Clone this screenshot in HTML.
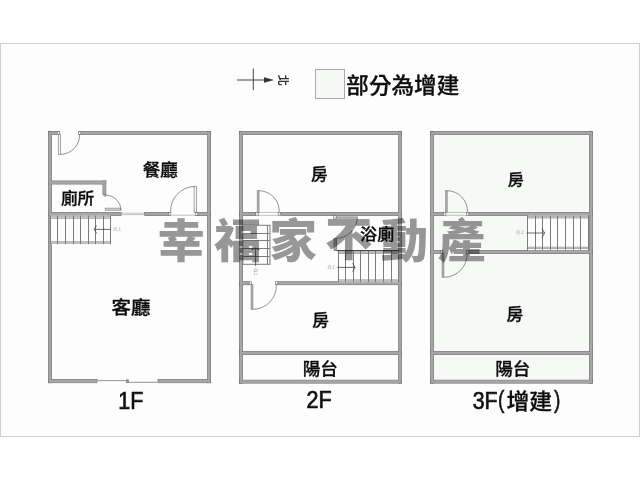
<!DOCTYPE html>
<html lang="zh-Hant">
<head>
<meta charset="utf-8">
<title>格局圖</title>
<style>
html,body{margin:0;padding:0;background:#fff;width:640px;height:480px;overflow:hidden}
svg{display:block;position:absolute;left:0;top:0;will-change:transform;opacity:0.999}
text{font-family:"Liberation Sans","Noto Sans CJK TC",sans-serif;fill:#111}
.frame{fill:#fdfdfd;stroke:#cfcfcf;stroke-width:1}
.w{fill:#a6a6a6;stroke:#6a6a6a;stroke-width:0.7}
.wf{fill:#a6a6a6;stroke:none}
.l{fill:none;stroke:#555;stroke-width:0.8}
.arc{fill:none;stroke:#666;stroke-width:0.7}
.door{fill:#aaa;stroke:#858585;stroke-width:0.5}
.doorg{fill:#d0d0d0;stroke:#808080;stroke-width:0.6}
.doorw{fill:#fafafa;stroke:#808080;stroke-width:0.7}
.jamb{fill:#f4f4f4;stroke:#666;stroke-width:0.6}
.win{fill:none;stroke:#9a9a9a;stroke-width:0.6}
.win2{fill:none;stroke:#7a7a7a;stroke-width:0.8}
.post{fill:#999;stroke:#666;stroke-width:0.5}
.st{fill:none;stroke:#7c7c7c;stroke-width:1}
.sl{fill:none;stroke:#7c7c7c;stroke-width:1}
.sa{fill:none;stroke:#444;stroke-width:0.8}
.c{fill:none;stroke:#444;stroke-width:1}
.cf{fill:#333;stroke:none}
.lg{fill:#f5f8f5;stroke:#aaa;stroke-width:1}
.green{fill:#f6f9f6;stroke:none}
.lb{font-weight:500;fill:#0c0c0c;stroke:#0c0c0c;stroke-width:0.3px}
.lp{font-weight:400;fill:#111;stroke:#111;stroke-width:0.55px}
.lt{font-weight:400;fill:#111;stroke:#111;stroke-width:0.7px}
.tiny{font-size:4px;fill:#999}
.stf{fill:#fdfdfd;stroke:none}
.rail{fill:#c4c4c4;stroke:#8c8c8c;stroke-width:0.5}
.bl{fill:none;stroke:#4a4a4a;stroke-width:1.2}
.north{font-size:11px;fill:#333;font-weight:700}
.wm{font-size:46px;font-weight:900;fill:#989898;mix-blend-mode:multiply}
</style>
</head>
<body>
<svg width="640" height="480" viewBox="0 0 640 480">
<rect class="frame" x="0.5" y="43.5" width="639" height="393"/>
<rect class="green" x="430.2" y="131.2" width="162.7" height="252.3"/>
<rect class="w" x="48.45" y="131.55" width="10.7" height="3.1"/>
<rect class="w" x="79.35" y="131.55" width="131.1" height="3.1"/>
<rect class="w" x="48.45" y="131.55" width="3.1" height="251.2"/>
<rect class="w" x="207.35" y="131.55" width="3.1" height="251.2"/>
<rect class="w" x="48.45" y="379.65" width="48.5" height="3.1"/>
<rect class="w" x="158.05" y="379.65" width="52.4" height="3.1"/>
<rect class="w" x="48.45" y="180.95" width="57.4" height="3.1"/>
<rect class="w" x="102.95" y="180.95" width="2.9" height="13.3"/>
<rect class="w" x="48.45" y="212.35" width="72.7" height="3.1"/>
<rect class="w" x="144.65" y="212.35" width="24.2" height="3.1"/>
<rect class="w" x="196.35" y="212.35" width="14.1" height="3.1"/>
<rect class="w" x="239.55" y="131.55" width="161.8" height="3.0"/>
<rect class="w" x="239.55" y="131.55" width="3.0" height="251.6"/>
<rect class="w" x="398.35" y="131.55" width="3.0" height="251.6"/>
<rect class="w" x="239.55" y="380.15" width="161.8" height="3.0"/>
<rect class="w" x="239.55" y="351.55" width="161.8" height="3.0"/>
<rect class="w" x="239.55" y="212.55" width="16.1" height="3.0"/>
<rect class="w" x="280.75" y="212.55" width="120.6" height="3.0"/>
<rect class="w" x="239.55" y="281.75" width="9.5" height="3.0"/>
<rect class="w" x="277.95" y="281.75" width="123.4" height="3.0"/>
<rect class="w" x="333.95" y="238.75" width="2.5" height="11.7"/>
<rect class="w" x="430.55" y="131.55" width="162.0" height="3.0"/>
<rect class="w" x="430.55" y="131.55" width="3.0" height="251.6"/>
<rect class="w" x="589.55" y="131.55" width="3.0" height="251.6"/>
<rect class="w" x="430.55" y="380.15" width="162.0" height="3.0"/>
<rect class="w" x="430.55" y="351.55" width="162.0" height="3.0"/>
<rect class="w" x="430.55" y="212.55" width="12.8" height="3.0"/>
<rect class="w" x="468.95" y="212.55" width="123.6" height="3.0"/>
<rect class="w" x="430.55" y="250.55" width="9.7" height="3.0"/>
<rect class="w" x="468.75" y="250.55" width="123.8" height="3.0"/>
<rect class="wf" x="48.8" y="131.9" width="10.0" height="2.4"/>
<rect class="wf" x="79.7" y="131.9" width="130.4" height="2.4"/>
<rect class="wf" x="48.8" y="131.9" width="2.4" height="250.5"/>
<rect class="wf" x="207.7" y="131.9" width="2.4" height="250.5"/>
<rect class="wf" x="48.8" y="380.0" width="47.8" height="2.4"/>
<rect class="wf" x="158.4" y="380.0" width="51.7" height="2.4"/>
<rect class="wf" x="48.8" y="181.3" width="56.7" height="2.4"/>
<rect class="wf" x="103.3" y="181.3" width="2.2" height="12.6"/>
<rect class="wf" x="48.8" y="212.7" width="72.0" height="2.4"/>
<rect class="wf" x="145.0" y="212.7" width="23.5" height="2.4"/>
<rect class="wf" x="196.7" y="212.7" width="13.4" height="2.4"/>
<rect class="wf" x="239.9" y="131.9" width="161.1" height="2.3"/>
<rect class="wf" x="239.9" y="131.9" width="2.3" height="250.9"/>
<rect class="wf" x="398.7" y="131.9" width="2.3" height="250.9"/>
<rect class="wf" x="239.9" y="380.5" width="161.1" height="2.3"/>
<rect class="wf" x="239.9" y="351.9" width="161.1" height="2.3"/>
<rect class="wf" x="239.9" y="212.9" width="15.4" height="2.3"/>
<rect class="wf" x="281.1" y="212.9" width="119.9" height="2.3"/>
<rect class="wf" x="239.9" y="282.1" width="8.8" height="2.3"/>
<rect class="wf" x="278.3" y="282.1" width="122.7" height="2.3"/>
<rect class="wf" x="334.3" y="239.1" width="1.8" height="11.0"/>
<rect class="wf" x="430.9" y="131.9" width="161.3" height="2.3"/>
<rect class="wf" x="430.9" y="131.9" width="2.3" height="250.9"/>
<rect class="wf" x="589.9" y="131.9" width="2.3" height="250.9"/>
<rect class="wf" x="430.9" y="380.5" width="161.3" height="2.3"/>
<rect class="wf" x="430.9" y="351.9" width="161.3" height="2.3"/>
<rect class="wf" x="430.9" y="212.9" width="12.1" height="2.3"/>
<rect class="wf" x="469.3" y="212.9" width="122.9" height="2.3"/>
<rect class="wf" x="430.9" y="250.9" width="9.0" height="2.3"/>
<rect class="wf" x="469.1" y="250.9" width="123.1" height="2.3"/>
<line class="c" x1="237" y1="80" x2="266" y2="80"/>
<line class="c" x1="253.3" y1="68.6" x2="253.3" y2="90.2"/>
<path class="cf" d="M264 77.2 L274 80 L264 82.8 Z"/>
<text class="north" x="0" y="0" transform="translate(278.9 74.8) rotate(90)">北</text>
<rect class="lg" x="315.5" y="69.5" width="29" height="29"/>
<line class="win2" x1="97.3" y1="380.6" x2="127.5" y2="380.6"/>
<line class="win2" x1="127.5" y1="382.3" x2="157.7" y2="382.3"/>
<rect class="post" x="126.4" y="379.8" width="2.2" height="3"/>
<rect class="doorw" x="58.3" y="134.6" width="2.3" height="19.8"/>
<path class="arc" d="M60.4 154.4 A19.4 19.4 0 0 0 79.6 134.8"/>
<rect class="jamb" x="57.2" y="131.6" width="2.4" height="3"/>
<rect class="jamb" x="78.5" y="131.6" width="2.4" height="3"/>
<rect class="doorg" x="105.2" y="208.1" width="15.6" height="2.1"/>
<path class="arc" d="M105.6 195 A15.4 15.4 0 0 1 121 210.4"/>
<rect class="jamb" x="104" y="194.3" width="1.8" height="1.8"/>
<line class="win" x1="121.5" y1="213.2" x2="144.3" y2="213.2"/>
<line class="win" x1="121.5" y1="214.6" x2="144.3" y2="214.6"/>
<line class="win" x1="169.6" y1="215.2" x2="195.6" y2="215.2"/>
<rect class="doorw" x="194.1" y="186.3" width="2.3" height="25.8"/>
<path class="arc" d="M170.6 212.2 A24.6 24.6 0 0 1 194.1 186.5"/>
<rect class="jamb" x="168.4" y="212.4" width="2.4" height="3"/>
<rect class="jamb" x="195.2" y="212.4" width="2.6" height="3"/>
<rect class="stf" x="50.4" y="215.6" width="60.3" height="28.6"/>
<rect class="rail" x="50.4" y="216.7" width="60.3" height="1.7"/>
<rect class="rail" x="50.4" y="241.6" width="60.3" height="1.7"/>
<line class="sl" x1="50.5" y1="215.6" x2="50.5" y2="244.2"/>
<line class="sl" x1="57.5" y1="215.6" x2="57.5" y2="244.2"/>
<line class="sl" x1="65.5" y1="215.6" x2="65.5" y2="244.2"/>
<line class="sl" x1="73.5" y1="215.6" x2="73.5" y2="244.2"/>
<line class="sl" x1="80.5" y1="215.6" x2="80.5" y2="244.2"/>
<line class="sl" x1="88.5" y1="215.6" x2="88.5" y2="244.2"/>
<line class="sl" x1="95.5" y1="215.6" x2="95.5" y2="244.2"/>
<line class="sl" x1="103.5" y1="215.6" x2="103.5" y2="244.2"/>
<line class="sl" x1="110.5" y1="215.6" x2="110.5" y2="244.2"/>
<line class="sa" x1="94.4" y1="229.4" x2="111" y2="229.4"/>
<path class="sa" d="M96.6 225.4 L94.3 229.4 L96.6 233.4"/>
<text class="tiny" x="113.2" y="231" >向上</text>
<line class="win" x1="258" y1="215.3" x2="278.4" y2="215.3"/>
<line class="win" x1="258" y1="212.5" x2="278.4" y2="212.5"/>
<rect class="door" x="257.1" y="190.5" width="2" height="21.8"/>
<path class="arc" d="M259 190.7 A20.4 20.4 0 0 1 279.2 212.2"/>
<rect class="jamb" x="255.8" y="212.5" width="2.4" height="3"/>
<rect class="jamb" x="278.2" y="212.5" width="2.4" height="3"/>
<rect class="door" x="251" y="284.6" width="2" height="24.8"/>
<path class="arc" d="M253 309.3 A23.6 23.6 0 0 0 276.4 284.8"/>
<rect class="jamb" x="249.2" y="281.7" width="2.4" height="3"/>
<rect class="jamb" x="275.4" y="281.7" width="2.4" height="3"/>
<rect class="door" x="336.4" y="216.8" width="20.8" height="1.6"/>
<path class="arc" d="M357.3 217.2 A21.6 21.6 0 0 1 335.6 238.4"/>
<rect class="jamb" x="333.6" y="215.6" width="2.6" height="2.6"/>
<rect class="stf" x="338.2" y="250.4" width="60.4" height="31.8"/>
<rect class="rail" x="338.2" y="252" width="60.4" height="1.7"/>
<rect class="rail" x="338.2" y="279.8" width="60.4" height="1.7"/>
<line class="sl" x1="338.5" y1="250.4" x2="338.5" y2="282.2"/>
<line class="sl" x1="345.5" y1="250.4" x2="345.5" y2="282.2"/>
<line class="sl" x1="353.5" y1="250.4" x2="353.5" y2="282.2"/>
<line class="sl" x1="360.5" y1="250.4" x2="360.5" y2="282.2"/>
<line class="sl" x1="368.5" y1="250.4" x2="368.5" y2="282.2"/>
<line class="sl" x1="375.5" y1="250.4" x2="375.5" y2="282.2"/>
<line class="sl" x1="383.5" y1="250.4" x2="383.5" y2="282.2"/>
<line class="sl" x1="391.5" y1="250.4" x2="391.5" y2="282.2"/>
<line class="sl" x1="398.5" y1="250.4" x2="398.5" y2="282.2"/>
<line class="sa" x1="337.2" y1="267.4" x2="355" y2="267.4"/>
<path class="sa" d="M352.6 263.2 L355 267.4 L352.6 271.6"/>
<line class="bl" x1="336.6" y1="250.6" x2="398.6" y2="250.6"/>
<text class="tiny" x="327.4" y="268.7" >向上</text>
<rect class="st" x="242.8" y="225.3" width="27.2" height="39.0"/>
<line class="sl" x1="267.5" y1="225.3" x2="267.5" y2="264.3"/>
<line class="sl" x1="242.8" y1="233.5" x2="270" y2="233.5"/>
<line class="sl" x1="242.8" y1="240.5" x2="270" y2="240.5"/>
<line class="sl" x1="242.8" y1="248.5" x2="270" y2="248.5"/>
<line class="sl" x1="242.8" y1="256.5" x2="270" y2="256.5"/>
<line class="sa" x1="255.6" y1="248.4" x2="255.6" y2="266"/>
<path class="sa" d="M251.6 249.9 L255.6 248.2 L259.6 249.9"/>
<text class="tiny" x="0" y="0" transform="translate(254 268) rotate(90)">向上</text>
<line class="win" x1="445.7" y1="215.3" x2="466.6" y2="215.3"/>
<line class="win" x1="445.7" y1="212.5" x2="466.6" y2="212.5"/>
<rect class="door" x="445.3" y="190.5" width="2" height="21.8"/>
<path class="arc" d="M447.2 190.7 A20.4 20.4 0 0 1 467.4 212.2"/>
<rect class="jamb" x="443.5" y="212.5" width="2.4" height="3"/>
<rect class="jamb" x="466.4" y="212.5" width="2.4" height="3"/>
<rect class="door" x="442" y="253.4" width="2" height="24"/>
<path class="arc" d="M444 277.3 A23.4 23.4 0 0 0 467.2 253.6"/>
<rect class="jamb" x="440.4" y="250.5" width="2.4" height="3"/>
<rect class="jamb" x="466.2" y="250.5" width="2.4" height="3"/>
<rect class="stf" x="527.6" y="215.6" width="60.6" height="34.6"/>
<rect class="rail" x="527.6" y="216.4" width="60.6" height="1.7"/>
<rect class="rail" x="527.6" y="247.1" width="60.6" height="1.7"/>
<line class="sl" x1="527.5" y1="215.6" x2="527.5" y2="250.2"/>
<line class="sl" x1="535.5" y1="215.6" x2="535.5" y2="250.2"/>
<line class="sl" x1="542.5" y1="215.6" x2="542.5" y2="250.2"/>
<line class="sl" x1="550.5" y1="215.6" x2="550.5" y2="250.2"/>
<line class="sl" x1="557.5" y1="215.6" x2="557.5" y2="250.2"/>
<line class="sl" x1="565.5" y1="215.6" x2="565.5" y2="250.2"/>
<line class="sl" x1="573.5" y1="215.6" x2="573.5" y2="250.2"/>
<line class="sl" x1="580.5" y1="215.6" x2="580.5" y2="250.2"/>
<line class="sl" x1="588.5" y1="215.6" x2="588.5" y2="250.2"/>
<line class="sa" x1="526.6" y1="233" x2="544.5" y2="233"/>
<path class="sa" d="M542 228.4 L544.6 233 L542 237.6"/>
<text class="tiny" x="516.2" y="234.3" >向上</text>
<text class="wm" x="153.01 207.86 261.55 315.44 369.71 425.15" y="256.9 256.9 256.9 254.6 256.9 256.9" transform="scale(1.03 1)">幸福家不動產</text>
<text class="lb" transform="translate(142.82 175.64) scale(1.0 0.95)" font-size="17.5">餐廳</text>
<text class="lb" transform="translate(60.88 204.31) scale(1.0 0.95)" font-size="16.7">廁所</text>
<text class="lb" transform="translate(111.6 314.38) scale(1.0 0.95)" font-size="19.5">客廳</text>
<text class="lb" transform="translate(310.92 180.09) scale(1.0 0.95)" font-size="16.7">房</text>
<text class="lb" transform="translate(360.0 240.04) scale(1.0 0.95)" font-size="17.2">浴廁</text>
<text class="lb" transform="translate(312.32 326.34) scale(1.0 0.95)" font-size="16.7">房</text>
<text class="lb" transform="translate(302.65 375.31) scale(1.0 0.95)" font-size="17.6">陽台</text>
<text class="lb" transform="translate(507.83 184.92) scale(1.0 0.95)" font-size="16.1">房</text>
<text class="lb" transform="translate(506.5 320.16) scale(1.0 0.95)" font-size="16.7">房</text>
<text class="lb" transform="translate(495.2 374.51) scale(1.0 0.95)" font-size="17.6">陽台</text>
<text class="lt" transform="translate(118.37 408.65) scale(0.892 1.0)" font-size="24.0">1F</text>
<text class="lt" transform="translate(306.51 408.42) scale(0.925 1.0)" font-size="23.3">2F</text>
<text class="lb" transform="translate(346.33 92.74) scale(1.0 0.95)" font-size="22.6">部分為增建</text>
<g><text class="lt" transform="translate(472.7 408.7) scale(0.89 1)" font-size="23.9">3F</text><text class="lp" transform="translate(498.1 408.3) scale(0.78 1)" font-size="24.6">(</text><text class="lb" transform="translate(506.45 408.8) scale(1 0.94)" font-size="22.9">增建</text><text class="lp" transform="translate(553.9 408.3) scale(0.78 1)" font-size="24.6">)</text></g>
</svg>
</body>
</html>
